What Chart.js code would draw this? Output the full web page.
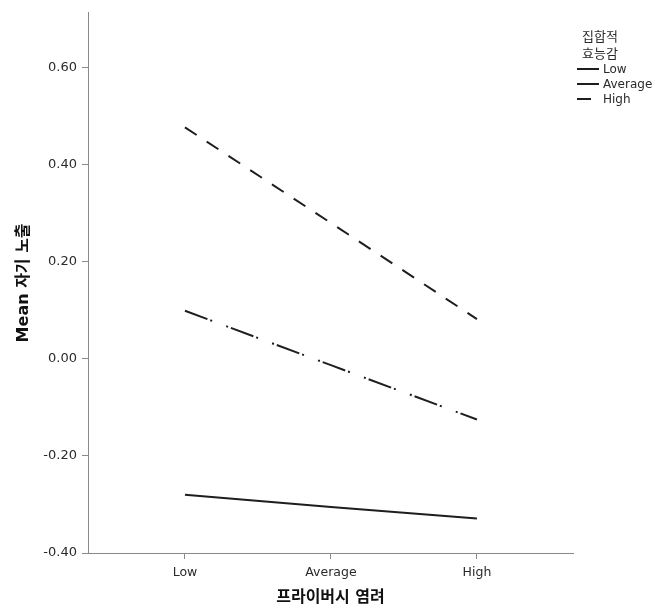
<!DOCTYPE html>
<html>
<head>
<meta charset="utf-8">
<script src="https://cdn.jsdelivr.net/npm/chart.js@4"></script>
<style>
    body { margin: 0; background: #fff; }
    #wrap { width: 655px; height: 609px; position: relative; }
</style>
</head>
<body>
<div id="wrap"><canvas id="lineChart"></canvas></div>
<script>
// categories on the x axis (프라이버시 염려)
const categories = ['Low', 'Average', 'High'];
const yTicks = [-0.4, -0.2, 0.0, 0.2, 0.4, 0.6];

// 집합적 효능감 groups
const seriesNames = ['Low', 'Average', 'High'];
const lowValues = [-0.280, -0.305, -0.329];
const averageValues = [0.099, -0.013, -0.125];
const highValues = [0.477, 0.280, 0.082];

const FONT = "'DejaVu Sans', 'Noto Sans CJK KR', sans-serif";
const TEXT = '#2a2a2a';
const AXIS = '#8a8a8a';

function toPoints(values) {
    return values.map((v, i) => ({ x: i, y: v }));
}

function makeSet(name, values, dash) {
    return {
        label: name,
        data: toPoints(values),
        borderColor: '#1e1e1e',
        borderWidth: 2,
        borderDash: dash,
        pointRadius: 0,
        fill: false,
        tension: 0
    };
}

// legend drawn by hand in the right margin
const sideLegend = {
    id: 'sideLegend',
    afterDraw(chart) {
        const ctx = chart.ctx;
        ctx.save();
        ctx.fillStyle = TEXT;
        ctx.font = '13px ' + FONT;
        ctx.textAlign = 'center';
        ctx.textBaseline = 'middle';
        ctx.fillText('집합적', 600, 38);
        ctx.fillText('효능감', 600, 55);

        ctx.font = '12px ' + FONT;
        ctx.textAlign = 'left';
        chart.data.datasets.forEach((ds, i) => {
            const y = 69 + i * 15;
            ctx.strokeStyle = ds.borderColor;
            ctx.lineWidth = 2;
            ctx.setLineDash(ds.borderDash || []);
            ctx.beginPath();
            ctx.moveTo(577, y);
            ctx.lineTo(599, y);
            ctx.stroke();
            ctx.setLineDash([]);
            ctx.fillText(ds.label, 603, y + 1);
        });
        ctx.restore();
    }
};

const ctx = document.getElementById('lineChart').getContext('2d');
new Chart(ctx, {
    type: 'line',
    data: {
        datasets: [
            makeSet(seriesNames[0], lowValues, []),
            makeSet(seriesNames[1], averageValues, [24, 3, 2, 15, 2, 3]),
            makeSet(seriesNames[2], highValues, [14, 12])
        ]
    },
    plugins: [sideLegend],
    options: {
        responsive: true,
        maintainAspectRatio: false,
        animation: false,
        layout: { padding: { top: 12, right: 82, left: 0, bottom: 0 } },
        plugins: {
            legend: { display: false },
            tooltip: { enabled: false }
        },
        scales: {
            x: {
                type: 'linear',
                min: -0.664,
                max: 2.658,
                afterBuildTicks: axis => {
                    axis.ticks = categories.map((c, i) => ({ value: i }));
                },
                afterFit: scale => { scale.height = 56; },
                ticks: {
                    color: TEXT,
                    font: { family: FONT, size: 12.5 },
                    padding: 6,
                    maxRotation: 0,
                    callback: v => categories[v]
                },
                grid: {
                    drawOnChartArea: false,
                    drawTicks: true,
                    tickLength: 6,
                    color: AXIS
                },
                border: { display: true, color: AXIS, width: 1 },
                title: {
                    display: true,
                    text: '프라이버시 염려',
                    color: '#111',
                    font: { family: FONT, size: 16, weight: 'bold' },
                    padding: { top: 0, bottom: 2 }
                }
            },
            y: {
                min: -0.4,
                max: 0.713,
                afterBuildTicks: axis => {
                    axis.ticks = yTicks.map(v => ({ value: v }));
                },
                afterFit: scale => { scale.width = 88; },
                ticks: {
                    color: TEXT,
                    font: { family: FONT, size: 13 },
                    padding: 5,
                    callback: v => v.toFixed(2)
                },
                grid: {
                    drawOnChartArea: false,
                    drawTicks: true,
                    tickLength: 6,
                    color: AXIS
                },
                border: { display: true, color: AXIS, width: 1 },
                title: {
                    display: true,
                    text: 'Mean 자기 노출',
                    color: '#111',
                    font: { family: FONT, size: 16, weight: 'bold' },
                    padding: { top: 14, bottom: 0 }
                }
            }
        }
    }
});
</script>
</body>
</html>
